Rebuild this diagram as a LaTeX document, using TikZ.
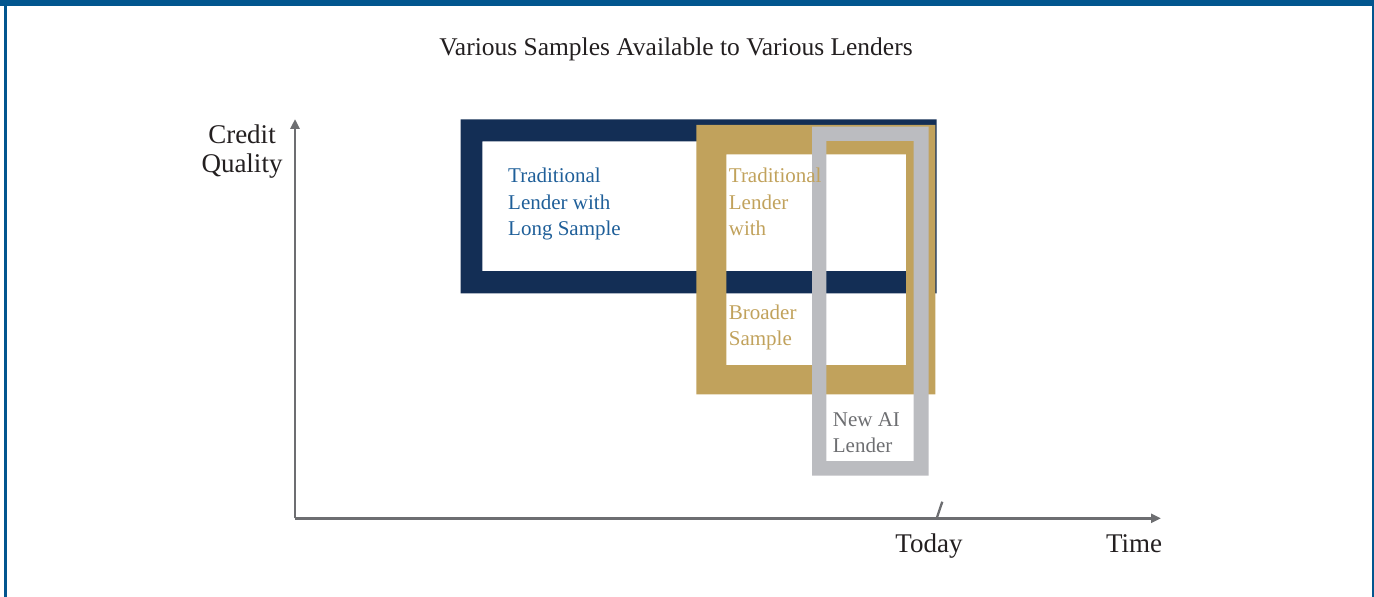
\documentclass[tikz,border=0pt]{standalone}
\usepackage{fontspec}
\setmainfont{Liberation Serif}
\usetikzlibrary{arrows.meta}

\definecolor{barblue}{HTML}{02568F}
\definecolor{navy}{HTML}{132E55}
\definecolor{gold}{HTML}{C1A25C}
\definecolor{silver}{HTML}{BBBCC0}
\definecolor{bluetext}{HTML}{1F5F99}
\definecolor{graytext}{HTML}{6D6E71}
\definecolor{axisgray}{HTML}{6D6E71}
\definecolor{ink}{HTML}{231F20}

\tikzset{
  boxtext/.style={anchor=base west, inner sep=0pt,
    font=\fontsize{21bp}{26bp}\selectfont},
  axislabel/.style={anchor=base, inner sep=0pt, text=ink,
    font=\fontsize{27bp}{29bp}\selectfont},
  axisline/.style={draw=axisgray, line width=2.5bp,
    -{Triangle[length=10bp,width=9bp]}},
}

\begin{document}
\begin{tikzpicture}[x=1bp, y=-1bp]
\useasboundingbox (0,0) rectangle (1374,597);

% page border
\fill[barblue] (0,0) rectangle (1374,6);
\fill[barblue] (4,0) rectangle (6.7,597);
\fill[barblue] (1372,0) rectangle (1374,597);

% sample windows, drawn as hollow frames
\fill[navy, even odd rule] (460.5,119.5) rectangle (936.7,293.3)
                           (482.3,141.5) rectangle (914,271);
\fill[gold, even odd rule] (696.3,125) rectangle (935.3,394.3)
                           (726.3,154.5) rectangle (906,365);
\fill[silver, even odd rule] (812,126.7) rectangle (928.5,475.7)
                             (826.3,141) rectangle (913.5,461);

% axes
\coordinate (origin) at (295,518.3);
\coordinate (ytip) at (295,119);
\coordinate (xtip) at (1161,518.3);
\draw[axisline] (origin) -- (ytip);
\draw[axisline] (origin) -- (xtip);
\coordinate (todaybase) at (936.7,518.3);
\coordinate (todaytop) at (942.3,501.7);
\draw[axisgray, line width=2.3bp] (todaybase) -- (todaytop);

% title
\node[anchor=base, inner sep=0pt, text=ink,
      font=\fontsize{25.5bp}{30bp}\selectfont] (title) at (676,56)
  {Various Samples Available to Various Lenders};

% axis labels
\node[axislabel] (ylabel) at (242,143.3)
  {\begin{tabular}[t]{@{}c@{}}Credit\\Quality\end{tabular}};
\node[axislabel] (today) at (929,552) {Today};
\node[axislabel] (time) at (1134,552) {Time};

% window labels
\node[boxtext, text=bluetext] (longlbl) at (508,183)
  {\begin{tabular}[t]{@{}l@{}}Traditional\\Lender with\\Long Sample\end{tabular}};
\node[boxtext, text=gold] (broadlbl) at (728.7,183)
  {\begin{tabular}[t]{@{}l@{}}Traditional\\Lender\\with\end{tabular}};
\node[boxtext, text=gold] (broadlbltwo) at (728.7,319.5)
  {\begin{tabular}[t]{@{}l@{}}Broader\\Sample\end{tabular}};
\node[boxtext, text=graytext] (ailbl) at (832.7,426.7)
  {\begin{tabular}[t]{@{}l@{}}New AI\\Lender\end{tabular}};
\end{tikzpicture}
\end{document}
